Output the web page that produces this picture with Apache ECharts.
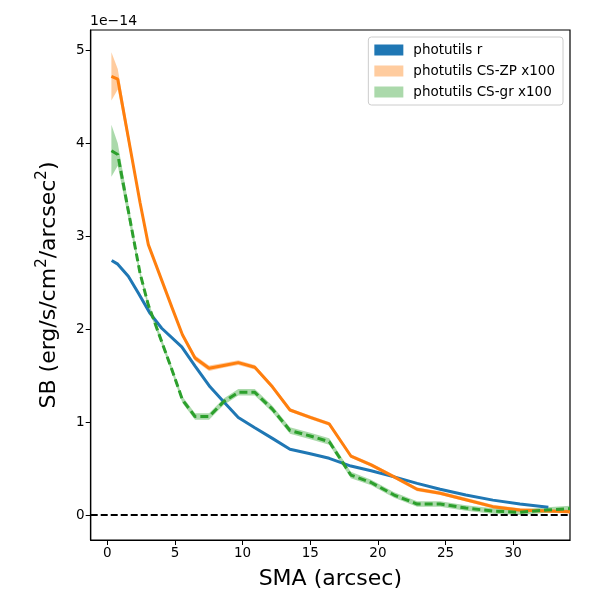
<!DOCTYPE html>
<html>
<head>
<meta charset="utf-8">
<script src="https://cdn.jsdelivr.net/npm/echarts@6/dist/echarts.min.js"></script>
<style>
  html, body { margin: 0; padding: 0; background: #fff; }
  #chart { width: 600px; height: 600px; }
</style>
</head>
<body>
<div id="chart"></div>
<script>
// surface brightness profiles, values in units of 1e-14
var blueX = [0.32, 0.77, 1.55, 2.29, 3.16, 4.02, 5.5, 6.5, 7.59, 8.6, 9.68, 10.9, 12.2, 13.5, 15.0, 16.4, 18.0, 19.5, 21.2, 22.9, 24.6, 26.5, 28.5, 30.5, 32.6];
var blueY = [2.74, 2.70, 2.57, 2.39, 2.17, 2.01, 1.81, 1.60, 1.38, 1.22, 1.05, 0.94, 0.825, 0.707, 0.66, 0.61, 0.527, 0.477, 0.41, 0.34, 0.277, 0.215, 0.16, 0.118, 0.083];

var csX = [0.3, 0.77, 2.42, 3.03, 4.76, 5.55, 6.48, 7.52, 8.6, 9.68, 10.9, 12.2, 13.5, 15.0, 16.4, 18.0, 19.5, 21.2, 22.9, 24.6, 26.5, 28.5, 30.5, 32.5, 34.2];
var zpY = [4.72, 4.69, 3.36, 2.91, 2.24, 1.94, 1.69, 1.58, 1.61, 1.64, 1.59, 1.38, 1.13, 1.05, 0.98, 0.635, 0.54, 0.41, 0.277, 0.235, 0.165, 0.09, 0.054, 0.043, 0.036];
var zpErr = [0.26, 0.11, 0.025, 0.025, 0.025, 0.025, 0.03, 0.03, 0.025, 0.025, 0.025, 0.025, 0.02, 0.02, 0.02, 0.02, 0.02, 0.02, 0.02, 0.02, 0.02, 0.02, 0.02, 0.02, 0.02];
var grY = [3.92, 3.88, 2.60, 2.26, 1.57, 1.24, 1.06, 1.06, 1.22, 1.32, 1.32, 1.14, 0.91, 0.85, 0.79, 0.43, 0.35, 0.215, 0.118, 0.118, 0.075, 0.043, 0.029, 0.054, 0.07];
var grErr = [0.28, 0.12, 0.035, 0.035, 0.035, 0.035, 0.035, 0.035, 0.035, 0.035, 0.035, 0.035, 0.035, 0.035, 0.035, 0.035, 0.03, 0.03, 0.03, 0.03, 0.03, 0.03, 0.03, 0.03, 0.03];

var xTicks = [0, 5, 10, 15, 20, 25, 30];
var yTicks = [0, 1, 2, 3, 4, 5];

var FONT = 'DejaVu Sans';

function pairs(xs, ys) {
  return xs.map(function (x, i) { return [x, ys[i]]; });
}

function bandData(xs, ys, err) {
  return xs.map(function (x, i) { return [x, ys[i] - err[i], ys[i] + err[i]]; });
}

// whole band drawn as one polygon, on the first item
function bandSeries(name, xs, ys, err, fill) {
  var data = bandData(xs, ys, err);
  return {
    name: name,
    type: 'custom',
    data: data,
    encode: { x: 0, y: [1, 2] },
    itemStyle: { color: fill },
    renderItem: function (params, api) {
      if (params.dataIndex !== 0) return;
      var pts = [];
      var i;
      for (i = 0; i < data.length; i++) pts.push(api.coord([data[i][0], data[i][2]]));
      for (i = data.length - 1; i >= 0; i--) pts.push(api.coord([data[i][0], data[i][1]]));
      return {
        type: 'polygon',
        shape: { points: pts },
        style: { fill: fill, stroke: null }
      };
    },
    silent: true,
    z: 2
  };
}

var chart = echarts.init(document.getElementById('chart'), null, { renderer: 'canvas' });

chart.setOption({
  animation: false,
  textStyle: { fontFamily: FONT, color: '#000' },
  grid: {
    left: 90.7, right: 30, top: 30, bottom: 60,
    show: true, borderColor: '#000', borderWidth: 1.2, backgroundColor: 'transparent'
  },
  graphic: [{
    type: 'text', left: 90, top: 14,
    style: { text: '1e\u221214', font: '14px "DejaVu Sans"', fill: '#000' }
  }],
  legend: {
    right: 37, top: 37,
    orient: 'vertical',
    align: 'left',
    icon: 'rect',
    itemWidth: 29, itemHeight: 11,
    itemGap: 7,
    padding: [6, 8, 6, 6],
    borderColor: '#ccc', borderWidth: 1, borderRadius: 3,
    backgroundColor: 'rgba(255,255,255,0.8)',
    textStyle: { fontFamily: FONT, fontSize: 13.5, color: '#000', padding: [0, 0, 0, 5] },
    data: ['photutils r', 'photutils CS-ZP x100', 'photutils CS-gr x100']
  },
  xAxis: {
    type: 'value',
    min: -1.23, max: 34.2,
    name: 'SMA (arcsec)',
    nameLocation: 'middle',
    nameGap: 28,
    nameTextStyle: { fontFamily: FONT, fontSize: 22, color: '#000' },
    axisLine: { show: true, onZero: false, lineStyle: { color: '#000', width: 1.2 } },
    axisTick: { show: true, inside: false, length: 5, customValues: xTicks, lineStyle: { color: '#000' } },
    axisLabel: { customValues: xTicks, fontSize: 13.5, color: '#000', margin: 6, fontFamily: FONT },
    splitLine: { show: false }
  },
  yAxis: {
    type: 'value',
    min: -0.269, max: 5.22,
    name: 'SB (erg/s/cm{sup|2}/arcsec{sup|2})',
    nameLocation: 'middle',
    nameGap: 26,
    nameRotate: 90,
    nameTextStyle: {
      fontFamily: FONT, fontSize: 22, color: '#000', lineHeight: 30,
      rich: {
        sup: { fontFamily: FONT, fontSize: 15, color: '#000', verticalAlign: 'top', lineHeight: 30 }
      }
    },
    axisLine: { show: true, onZero: false, lineStyle: { color: '#000', width: 1.2 } },
    axisTick: { show: true, inside: false, length: 5, customValues: yTicks, lineStyle: { color: '#000' } },
    axisLabel: { customValues: yTicks, fontSize: 13.5, color: '#000', margin: 6, fontFamily: FONT },
    splitLine: { show: false }
  },
  series: [
    {
      name: 'photutils r',
      type: 'line',
      data: pairs(blueX, blueY),
      showSymbol: false,
      symbol: 'none',
      itemStyle: { color: '#1f77b4' },
      lineStyle: { color: '#1f77b4', width: 3 },
      z: 3,
      markLine: {
        silent: true,
        symbol: ['none', 'none'],
        label: { show: false },
        lineStyle: { color: '#000', type: [7, 3], width: 2 },
        data: [{ yAxis: 0 }]
      }
    },
    bandSeries('photutils CS-ZP x100', csX, zpY, zpErr, 'rgba(255,127,14,0.4)'),
    {
      name: 'zp line',
      type: 'line',
      data: pairs(csX, zpY),
      symbol: 'none',
      lineStyle: { color: '#ff7f0e', width: 3 },
      itemStyle: { color: '#ff7f0e' },
      z: 4
    },
    bandSeries('photutils CS-gr x100', csX, grY, grErr, 'rgba(44,160,44,0.4)'),
    {
      name: 'gr line',
      type: 'line',
      data: pairs(csX, grY),
      symbol: 'none',
      lineStyle: { color: '#2ca02c', width: 3, type: [8, 4] },
      itemStyle: { color: '#2ca02c' },
      z: 5
    }
  ]
});
</script>
</body>
</html>
